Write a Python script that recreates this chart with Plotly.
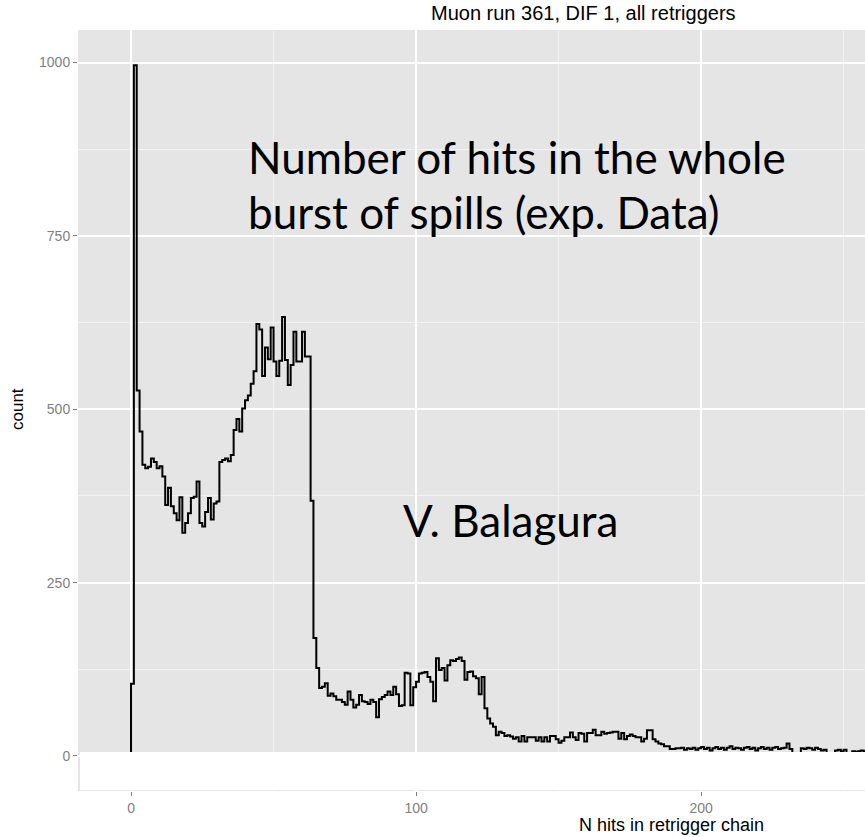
import plotly.graph_objects as go

# ---------------- data ----------------
bin_start = 0          # first bin edge (N hits)
bin_width = 1
counts = [
    104, 996, 527, 468, 420, 415, 417, 429, 424, 415,      # 0-9
    418, 403, 362, 387, 360, 350, 340, 373, 322, 336,      # 10-19
    350, 372, 374, 396, 336, 331, 352, 372, 341, 364,      # 20-29
    367, 424, 427, 429, 425, 434, 470, 486, 468, 501,      # 30-39
    513, 520, 537, 555, 623, 615, 548, 589, 572, 618,      # 40-49
    569, 548, 570, 633, 571, 535, 564, 612, 569, 569,      # 50-59
    612, 576, 576, 368, 170, 127, 98, 100, 105, 87,        # 60-69
    90, 86, 81, 81, 78, 74, 93, 81, 70, 74,                # 70-79
    88, 79, 78, 75, 81, 78, 56, 82, 85, 88,                # 80-89
    93, 88, 100, 89, 72, 73, 120, 119, 73, 99,             # 90-99
    107, 119, 120, 121, 114, 107, 79, 141, 124, 127,       # 100-109
    109, 131, 138, 137, 140, 142, 137, 110, 121, 122,      # 110-119
    115, 112, 89, 114, 69, 54, 47, 42, 30, 35,             # 120-129
    33, 29, 30, 28, 25, 27, 21, 29, 21, 27,                # 130-139
    27, 27, 22, 27, 21, 27, 21, 29, 29, 24,                # 140-149
    19, 22, 27, 27, 34, 27, 23, 33, 32, 21,                # 150-159
    33, 33, 38, 30, 30, 35, 32, 33, 34, 35,                # 160-169
    35, 25, 33, 24, 29, 31, 29, 27, 27, 21,                # 170-179
    25, 37, 37, 24, 21, 18, 17, 14, 14, 10,                # 180-189
    10, 11, 11, 12, 9, 11, 10, 12, 9, 11,                  # 190-199
    13, 10, 12, 8, 11, 13, 10, 12, 9, 12,                  # 200-209
    14, 10, 12, 11, 9, 12, 13, 10, 12, 8,                  # 210-219
    11, 13, 10, 12, 9, 12, 13, 10, 11, 12,                 # 220-229
    18, 10, 4, 3, 4, 11, 10, 12, 11, 9,                    # 230-239
    12, 10, 8, 9, 4, 3, 4, 8, 9, 7,                        # 240-249
    9, 3, 4, 7, 6, 7, 8, 7, 6,                             # 250-258
]
x_ticks = [0, 100, 200]
x_minor = [50, 150, 250]
y_ticks = [0, 250, 500, 750, 1000]
y_minor = [125, 375, 625, 875]

title_text = "Muon run 361, DIF 1, all retriggers"
x_title = "N hits in retrigger chain"
y_title = "count"
note_line1 = "Number of hits in the whole"
note_line2 = "burst of spills (exp. Data)"
author = "V. Balagura"

# ------------- step outline of the histogram -------------
edges = [bin_start + i * bin_width for i in range(len(counts) + 1)]
xs = [edges[0]] + edges
ys = [0] + counts + [counts[-1]]

# ------------- layout geometry (pixels) -------------
W, H = 865, 837
PL, PR, PT, PB = 78, 865, 30, 791


def paper(px, py):
    return (px - PL) / (PR - PL), (PB - py) / (PB - PT)


fig = go.Figure()
fig.add_trace(go.Scatter(
    x=xs, y=ys, mode="lines", line=dict(color="black", width=2, shape="hv"),
    hoverinfo="skip", showlegend=False,
))

tick_font = dict(family="Liberation Sans, Arial, sans-serif", size=14, color="#7F7F7F")

fig.update_layout(
    width=W, height=H,
    margin=dict(l=PL, r=W - PR, t=PT, b=H - PB),
    paper_bgcolor="white",
    plot_bgcolor="#E5E5E5",
    showlegend=False,
    xaxis=dict(
        range=[-18.6, 257.5], tickmode="array", tickvals=x_ticks,
        ticks="outside", ticklen=4, tickwidth=1, tickcolor="#7F7F7F",
        tickfont=tick_font, showgrid=True, gridcolor="white", gridwidth=2,
        zeroline=False, showline=False,
        minor=dict(tickvals=x_minor, showgrid=True, gridcolor="#F2F2F2",
                   gridwidth=1, ticks=""),
    ),
    yaxis=dict(
        range=[-50.5, 1047], tickmode="array", tickvals=y_ticks,
        ticks="outside", ticklen=4, tickwidth=1, tickcolor="#7F7F7F",
        tickfont=tick_font, showgrid=True, gridcolor="white", gridwidth=2,
        zeroline=False, showline=False,
        minor=dict(tickvals=y_minor, showgrid=True, gridcolor="#F2F2F2",
                   gridwidth=1, ticks=""),
    ),
)

# white box covering the lower part of the panel (as in the reference)
bx0, by0 = paper(PL + 2, PB - 1)
bx1, by1 = paper(PR, 752)
fig.add_shape(type="rect", xref="paper", yref="paper",
              x0=bx0, x1=1.0, y0=by0, y1=by1,
              fillcolor="white", line=dict(width=0), layer="above")

label_font = "Liberation Sans, Arial, sans-serif"
ann = []
tx, ty = paper(583, 13)
ann.append(dict(x=tx, y=ty, text=title_text, showarrow=False, xanchor="center",
                yanchor="middle", font=dict(family=label_font, size=20, color="black")))
tx, ty = paper(671, 825)
ann.append(dict(x=tx, y=ty, text=x_title, showarrow=False, xanchor="center",
                yanchor="middle", font=dict(family=label_font, size=18, color="black")))
tx, ty = paper(18, 409)
ann.append(dict(x=tx, y=ty, text=y_title, showarrow=False, xanchor="center",
                yanchor="middle", textangle=-90,
                font=dict(family=label_font, size=17, color="black")))

big_font = dict(family="Lato, Open Sans, sans-serif", size=44, color="black")
tx, ty = paper(246, 157)
ann.append(dict(x=tx, y=ty, text=note_line1, showarrow=False, xanchor="left",
                yanchor="middle", font=big_font))
tx, ty = paper(246, 212)
ann.append(dict(x=tx, y=ty, text=note_line2, showarrow=False, xanchor="left",
                yanchor="middle", font=big_font))
tx, ty = paper(401, 520)
ann.append(dict(x=tx, y=ty, text=author, showarrow=False, xanchor="left",
                yanchor="middle", font=big_font))

for a in ann:
    a["xref"] = "paper"
    a["yref"] = "paper"
fig.update_layout(annotations=ann)

fig.write_html("out.html")
